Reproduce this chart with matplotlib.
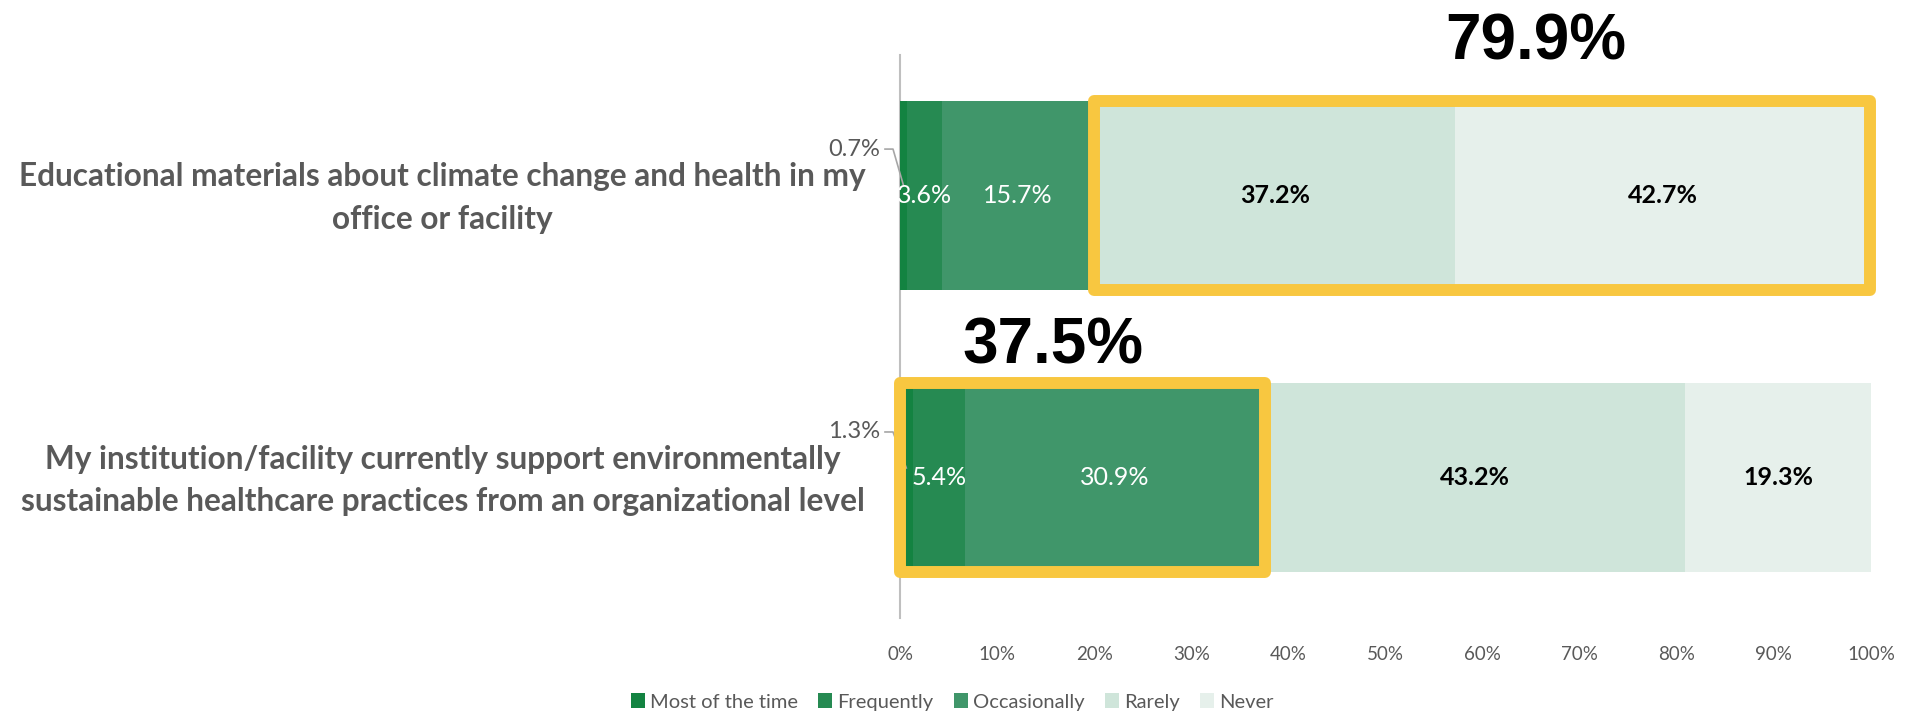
"""
Stacked horizontal bar chart of survey responses on climate-and-health
practices, with the grouped shares highlighted by a yellow frame.
"""

import matplotlib
matplotlib.use("Agg")
import matplotlib.pyplot as plt
import matplotlib.transforms as mtransforms
from matplotlib.patches import Rectangle, Patch

# ---- data -------------------------------------------------------------------
CATEGORIES = [
    "Educational materials about climate change and health in my\noffice or facility",
    "My institution/facility currently support environmentally\n"
    "sustainable healthcare practices from an organizational level",
]
RESPONSES = ["Most of the time", "Frequently", "Occasionally", "Rarely", "Never"]
MOST_OF_THE_TIME = [0.7, 1.3]
FREQUENTLY = [3.6, 5.4]
OCCASIONALLY = [15.7, 30.9]
RARELY = [37.2, 43.2]
NEVER = [42.7, 19.3]

# highlighted group per bar: (first response index, last response index), label
HIGHLIGHT_SPANS = [(3, 4), (0, 2)]
HIGHLIGHT_LABELS = ["79.9%", "37.5%"]

TICKS = [0, 10, 20, 30, 40, 50, 60, 70, 80, 90, 100]

COLORS = ["#138341", "#268a52", "#40966a", "#cfe5da", "#e6f0eb"]
TEXT_COLORS = [None, "white", "white", "black", "black"]
HIGHLIGHT = "#f8c740"
GREY = "#595959"

BODY_FONT = ["Lato", "DejaVu Sans"]
BIG_FONT = ["Liberation Sans", "DejaVu Sans"]

series = [MOST_OF_THE_TIME, FREQUENTLY, OCCASIONALLY, RARELY, NEVER]

fig = plt.figure(figsize=(19.08, 7.12), dpi=100)
ax = fig.add_axes([0.4717, 0.132, 0.5089, 0.7907])
ax.set_xlim(0, 100)
ax.set_ylim(1.495, -0.495)

ypos = list(range(len(CATEGORIES)))
bar_h = 0.668

lefts = [0.0] * len(CATEGORIES)
edges = []  # cumulative left edge of each segment, per response
for i, vals in enumerate(series):
    edges.append(list(lefts))
    ax.barh(ypos, vals, left=lefts, height=bar_h, color=COLORS[i],
            edgecolor="none", zorder=2)
    if TEXT_COLORS[i] is not None:
        for y, v, l in zip(ypos, vals, lefts):
            bold = TEXT_COLORS[i] == "black"
            ax.text(l + v / 2, y, f"{v:.1f}%", ha="center", va="center",
                    color=TEXT_COLORS[i], fontsize=18,
                    fontweight="bold" if bold else "normal",
                    family=BODY_FONT, zorder=5)
    lefts = [l + v for l, v in zip(lefts, vals)]
ax.set_xlim(0, 100)
ax.set_ylim(1.495, -0.495)

# small first segment: label outside with a leader line
px = fig.dpi_scale_trans
inv = ax.transData.inverted()
for y, v in zip(ypos, MOST_OF_THE_TIME):
    base = ax.transData
    t_text = base + mtransforms.ScaledTranslation(-0.20, 0.46, px)
    ax.text(0, y, f"{v:.1f}%", transform=t_text, ha="right", va="center",
            color=GREY, fontsize=17, family=BODY_FONT, clip_on=False)
    p0 = base + mtransforms.ScaledTranslation(-0.15, 0.46, px)
    p1 = base + mtransforms.ScaledTranslation(-0.07, 0.46, px)
    p2 = base + mtransforms.ScaledTranslation(0, 0.10, px)
    pts = [t.transform((x, y)) for t, x in ((p0, 0), (p1, 0), (p2, v / 2))]
    xs, ys = zip(*[inv.transform(p) for p in pts])
    ax.plot(xs, ys, color="#a6a6a6", lw=1.2, clip_on=False, zorder=4)

# yellow frames around the grouped responses
for y, (a, b), lab in zip(ypos, HIGHLIGHT_SPANS, HIGHLIGHT_LABELS):
    x0 = edges[a][y]
    x1 = edges[b][y] + series[b][y]
    ax.add_patch(Rectangle((x0, y - bar_h / 2), x1 - x0, bar_h, fill=False,
                           edgecolor=HIGHLIGHT, lw=8.6, joinstyle="round",
                           zorder=6, clip_on=False))

ax.text(65.5, -0.54, HIGHLIGHT_LABELS[0], ha="center", va="center",
        fontsize=46, fontweight="bold", family=BIG_FONT, clip_on=False)
ax.text(15.8, 0.535, HIGHLIGHT_LABELS[1], ha="center", va="center",
        fontsize=46, fontweight="bold", family=BIG_FONT, clip_on=False)

# category labels, centred in the left margin
lab_tr = mtransforms.blended_transform_factory(fig.transFigure, ax.transData)
for y, cat in zip(ypos, CATEGORIES):
    ax.text(0.232, y + 0.01, cat, transform=lab_tr, ha="center", va="center",
            multialignment="center", fontsize=22.8, fontweight="bold",
            color=GREY, family=BODY_FONT, linespacing=1.55)

ax.set_xticks(TICKS)
ax.set_xticklabels([f"{t}%" for t in TICKS], color=GREY, fontsize=13.5,
                   family=BODY_FONT)
ax.tick_params(axis="x", length=0, pad=20)
ax.set_yticks([])
for side in ("top", "right", "bottom"):
    ax.spines[side].set_visible(False)
ax.spines["left"].set_color("#bfbfbf")
ax.spines["left"].set_linewidth(1.5)
ax.spines["left"].set_zorder(1)

handles = [Patch(facecolor=c, edgecolor="none") for c in COLORS]
fig.legend(handles, RESPONSES, loc="center", bbox_to_anchor=(0.499, 0.014),
           ncol=5, frameon=False, handlelength=0.7, handleheight=0.7,
           handletextpad=0.25, columnspacing=1.0,
           prop={"family": BODY_FONT, "size": 14.5}, labelcolor=GREY)

fig.savefig("out.png", dpi=100)
